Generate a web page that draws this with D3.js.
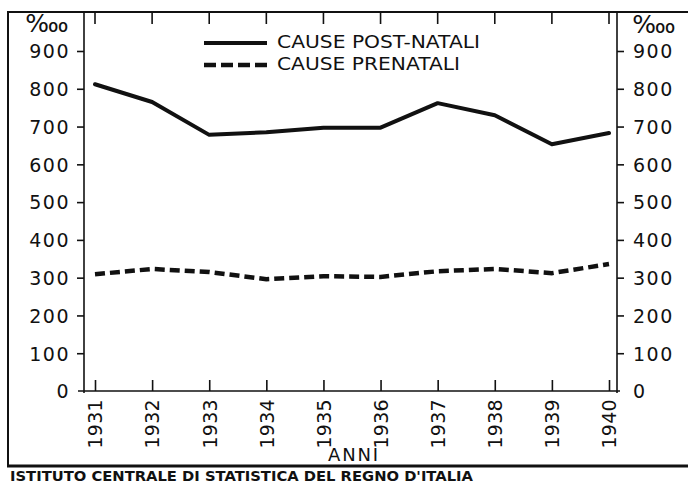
<!DOCTYPE html>
<html><head><meta charset="utf-8">
<script src="https://cdn.jsdelivr.net/npm/d3@7"></script>
<style>html,body{margin:0;padding:0;background:#fff;}svg{display:block;}</style>
</head><body>
<div id="chart"></div>
<script>
const years = [1931,1932,1933,1934,1935,1936,1937,1938,1939,1940];
const postNatali = [812,765,678,685,697,697,762,730,653,683];
const preNatali = [309,323,315,296,304,302,317,323,312,336];
const yTicks = [0,100,200,300,400,500,600,700,800,900];
const seriesNames = ["CAUSE  POST-NATALI","CAUSE  PRENATALI"];
const unitLabel = "\u2031";
const xTitle = "ANNI";
const footer = "ISTITUTO  CENTRALE  DI  STATISTICA  DEL  REGNO  D'ITALIA";

const W = 688, H = 484;
const svg = d3.select("#chart").append("svg").attr("width", W).attr("height", H);
const ink = "#111";
const font = "DejaVu Sans, sans-serif";

const x = d3.scaleLinear().domain([1931,1940]).range([95,609]);
const y = d3.scaleLinear().domain([0,900]).range([391,51]);
const axL = 84, axR = 617, frameTop = 12;

// frame
svg.append("line").attr("x1",8).attr("x2",W).attr("y1",frameTop).attr("y2",frameTop).attr("stroke",ink).attr("stroke-width",2);
svg.append("line").attr("x1",8).attr("x2",8).attr("y1",frameTop-1).attr("y2",467).attr("stroke",ink).attr("stroke-width",2);
svg.append("line").attr("x1",7).attr("x2",W).attr("y1",466).attr("y2",466).attr("stroke",ink).attr("stroke-width",3);

// vertical axes lines
[axL, axR].forEach(ax => svg.append("line").attr("x1",ax).attr("x2",ax).attr("y1",frameTop).attr("y2",393).attr("stroke",ink).attr("stroke-width",1.6));
// zero baseline
svg.append("line").attr("x1",78).attr("x2",620).attr("y1",y(0)).attr("y2",y(0)).attr("stroke",ink).attr("stroke-width",1.6);

// y axes
const left = svg.append("g").attr("transform",`translate(${axL},0)`)
  .call(d3.axisLeft(y).tickValues(yTicks).tickSize(7).tickPadding(7).tickFormat(d3.format("d")));
const right = svg.append("g").attr("transform",`translate(${axR},0)`)
  .call(d3.axisRight(y).tickValues(yTicks).tickSize(7).tickPadding(9).tickFormat(d3.format("d")));
[left,right].forEach(g=>{
  g.select(".domain").remove();
  g.selectAll(".tick line").attr("stroke",ink).attr("stroke-width",1.6);
  g.selectAll(".tick text").attr("fill",ink).style("font-family",font).style("font-size","19px").style("letter-spacing","1.5px").attr("dy","0.36em");
});
left.selectAll(".tick").filter(d=>d===0).select("line").remove();
right.selectAll(".tick").filter(d=>d===0).select("line").remove();

// unit labels
svg.append("text").attr("x",47).attr("y",32).attr("text-anchor","middle").attr("fill",ink)
  .style("font-family",font).style("font-size","25px").text(unitLabel);
svg.append("text").attr("x",654).attr("y",33).attr("text-anchor","middle").attr("fill",ink)
  .style("font-family",font).style("font-size","25px").text(unitLabel);

// x axis bottom
const bottom = svg.append("g").attr("transform",`translate(0,${y(0)})`)
  .call(d3.axisBottom(x).tickValues(years).tickSize(0).tickFormat(d3.format("d")));
bottom.select(".domain").remove();
bottom.selectAll(".tick text").remove();
bottom.selectAll(".tick").append("line").attr("y1",0).attr("y2",-11).attr("stroke",ink).attr("stroke-width",1.6);
bottom.selectAll(".tick").append("text")
  .attr("transform","rotate(-90)").attr("x",-8).attr("y",0).attr("dy","0.36em")
  .attr("text-anchor","end").attr("fill",ink)
  .style("font-family",font).style("font-size","19px").style("letter-spacing","0.3px")
  .text(d=>d);
// top ticks
svg.append("g").selectAll("line").data(years).join("line")
  .attr("x1",d=>x(d)).attr("x2",d=>x(d)).attr("y1",frameTop).attr("y2",frameTop+12)
  .attr("stroke",ink).attr("stroke-width",1.6);

// x title
svg.append("text").attr("x",328).attr("y",461).attr("fill",ink)
  .style("font-family",font).style("font-size","18px")
  .attr("textLength",50).attr("lengthAdjust","spacing").text(xTitle);

// lines
const line = d3.line().x((d,i)=>x(years[i])).y(d=>y(d)).curve(d3.curveLinear);
svg.append("path").datum(postNatali).attr("d",line).attr("fill","none").attr("stroke",ink)
  .attr("stroke-width",4).attr("stroke-linejoin","round").attr("stroke-linecap","round");
svg.append("path").datum(preNatali).attr("d",line).attr("fill","none").attr("stroke",ink)
  .attr("stroke-width",4.5).attr("stroke-dasharray","10,5").attr("stroke-linecap","butt");

// legend
const lg = svg.append("g");
lg.append("line").attr("x1",204).attr("x2",267).attr("y1",43).attr("y2",43).attr("stroke",ink).attr("stroke-width",4);
lg.append("line").attr("x1",204).attr("x2",267).attr("y1",65).attr("y2",65).attr("stroke",ink).attr("stroke-width",4.5).attr("stroke-dasharray","12,5");
lg.append("text").attr("x",277).attr("y",48).attr("fill",ink).style("font-family",font).style("font-size","17px")
  .attr("textLength",203).attr("lengthAdjust","spacingAndGlyphs").text(seriesNames[0]);
lg.append("text").attr("x",277).attr("y",70).attr("fill",ink).style("font-family",font).style("font-size","17px")
  .attr("textLength",183).attr("lengthAdjust","spacingAndGlyphs").text(seriesNames[1]);

// footer
svg.append("text").attr("x",10).attr("y",481).attr("fill",ink).style("font-family",font).style("font-size","13.5px").style("font-weight","bold")
  .attr("textLength",463).attr("lengthAdjust","spacingAndGlyphs").text(footer);
</script>
</body></html>
